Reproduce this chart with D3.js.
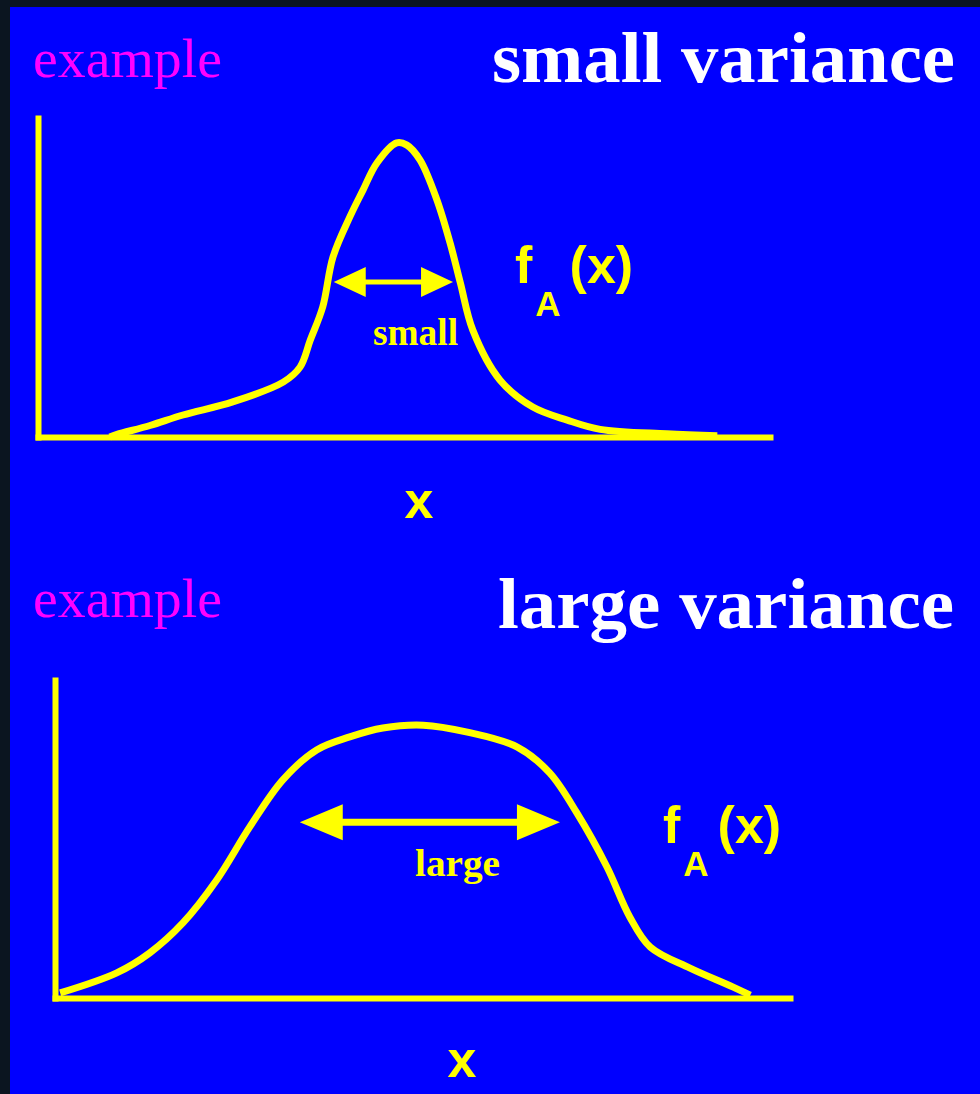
<!DOCTYPE html>
<html>
<head>
<meta charset="utf-8">
<script src="https://cdn.jsdelivr.net/npm/d3@7"></script>
<style>
  body { margin: 0; background: #0b1520; }
  svg { display: block; }
</style>
</head>
<body>
<svg width="980" height="1094"></svg>
<script>
// curve, x and density as % of the axis length
const smallX = [9.8, 10.8, 15.3, 19.8, 26.6, 33.5, 35.8, 37.2, 38.9, 40.3, 42.6, 44.4, 46.3, 49.0, 50.4, 52.2, 54.5, 56.3, 57.7, 59.4, 63.1, 67.6, 72.3, 76.8, 85.9, 92.8];
const smallY = [0, 0.8, 3.6, 6.9, 11.0, 17.2, 21.9, 30.4, 40.8, 56.4, 69.0, 77.4, 85.9, 92.2, 91.5, 86.8, 74.3, 60.8, 48.3, 33.5, 17.9, 9.4, 5.3, 2.4, 1.0, 0.4];
const largeX = [0.7, 8.4, 12.9, 17.4, 22.0, 26.5, 31.0, 35.6, 40.1, 44.6, 50.1, 56.1, 62.9, 67.3, 71.0, 75.1, 78.2, 81.0, 86.4, 92.2, 94.6];
const largeY = [1.6, 7.9, 14.2, 23.6, 37.1, 53.8, 68.6, 78.0, 82.1, 84.9, 85.8, 83.6, 78.9, 70.8, 58.2, 41.2, 25.5, 16.0, 9.4, 3.5, 0.9];

// spread arrows [x0, x1, y]
const smallSpread = [40.4, 56.7, 48.6];
const largeSpread = [33.3, 68.7, 55.3];

const panels = [
  { title: "large variance", spread: largeSpread, xs: largeX, ys: largeY, label: "large",
    left: 55, right: 790, top: 680, bottom: 998, titleY: 628, exY: 617,
    titleX: 498, titleW: 456, labelX: 415, labelY: 876, fx: 663, fy: 843, xLabelX: 462, xLabelY: 1077, head: [43, 18], shaft: 7 },
  { title: "small variance", spread: smallSpread, xs: smallX, ys: smallY, label: "small",
    left: 38, right: 770, top: 118, bottom: 437, titleY: 82, exY: 77,
    titleX: 492, titleW: 463, labelX: 373, labelY: 345, fx: 515, fy: 283, xLabelX: 419, xLabelY: 518, head: [32, 15], shaft: 5 }
];

const svg = d3.select("svg");
svg.append("rect").attr("x", 10).attr("y", 7).attr("width", 970).attr("height", 1087).attr("fill", "#0000ff");

const yellow = "#ffff00";

panels.forEach(p => {
  const sx = d3.scaleLinear().domain([0, 100]).range([p.left, p.right]);
  const sy = d3.scaleLinear().domain([0, 100]).range([p.bottom, p.top]);

  // axes, no ticks
  const ax = svg.append("g").attr("transform", `translate(0,${p.bottom})`)
    .call(d3.axisBottom(sx).tickValues([]).tickSizeOuter(0));
  const ay = svg.append("g").attr("transform", `translate(${p.left},0)`)
    .call(d3.axisLeft(sy).tickValues([]).tickSizeOuter(0));
  [ax, ay].forEach(g => g.select(".domain")
    .attr("stroke", yellow).attr("stroke-width", 6).attr("stroke-linecap", "square"));

  // density curve
  const pts = p.xs.map((x, i) => [x, p.ys[i]]);
  svg.append("path")
    .datum(pts)
    .attr("fill", "none")
    .attr("stroke", yellow)
    .attr("stroke-width", 7)
    .attr("stroke-linejoin", "round")
    .attr("d", d3.line().x(d => sx(d[0])).y(d => sy(d[1])).curve(d3.curveCatmullRom));

  // double arrow
  const x0 = sx(p.spread[0]), x1 = sx(p.spread[1]), y = sy(p.spread[2]);
  const [hl, hw] = p.head;
  svg.append("line").attr("x1", x0 + hl - 2).attr("x2", x1 - hl + 2).attr("y1", y).attr("y2", y)
    .attr("stroke", yellow).attr("stroke-width", p.shaft);
  svg.append("path").attr("fill", yellow)
    .attr("d", `M${x0},${y}L${x0 + hl},${y - hw}L${x0 + hl},${y + hw}Z M${x1},${y}L${x1 - hl},${y - hw}L${x1 - hl},${y + hw}Z`);

  svg.append("text").attr("x", p.labelX).attr("y", p.labelY)
    .attr("textLength", 85).attr("lengthAdjust", "spacingAndGlyphs")
    .style("font", "bold 38px 'Liberation Serif'").attr("fill", yellow).text(p.label);

  // f_A(x)
  const f = svg.append("text").attr("x", p.fx).attr("y", p.fy)
    .style("font-family", "'Liberation Sans'").style("font-weight", "bold").attr("fill", yellow);
  f.append("tspan").style("font-size", "52px").text("f");
  f.append("tspan").style("font-size", "35px").attr("dx", 3).attr("dy", 33).text("A");
  f.append("tspan").style("font-size", "52px").attr("dx", 9).attr("dy", -33).text("(x)");

  svg.append("text").attr("x", p.xLabelX).attr("y", p.xLabelY).attr("text-anchor", "middle")
    .style("font", "bold 52px 'Liberation Sans'").attr("fill", yellow).text("x");

  // titles
  svg.append("text").attr("x", 33).attr("y", p.exY)
    .attr("textLength", 189).attr("lengthAdjust", "spacingAndGlyphs")
    .style("font", "54px 'Liberation Serif'").attr("fill", "#ff00ff").text("example");
  svg.append("text").attr("x", p.titleX).attr("y", p.titleY)
    .attr("textLength", p.titleW).attr("lengthAdjust", "spacingAndGlyphs")
    .style("font", "bold 72px 'Liberation Serif'").attr("fill", "#ffffff").text(p.title);
});
</script>
</body>
</html>
